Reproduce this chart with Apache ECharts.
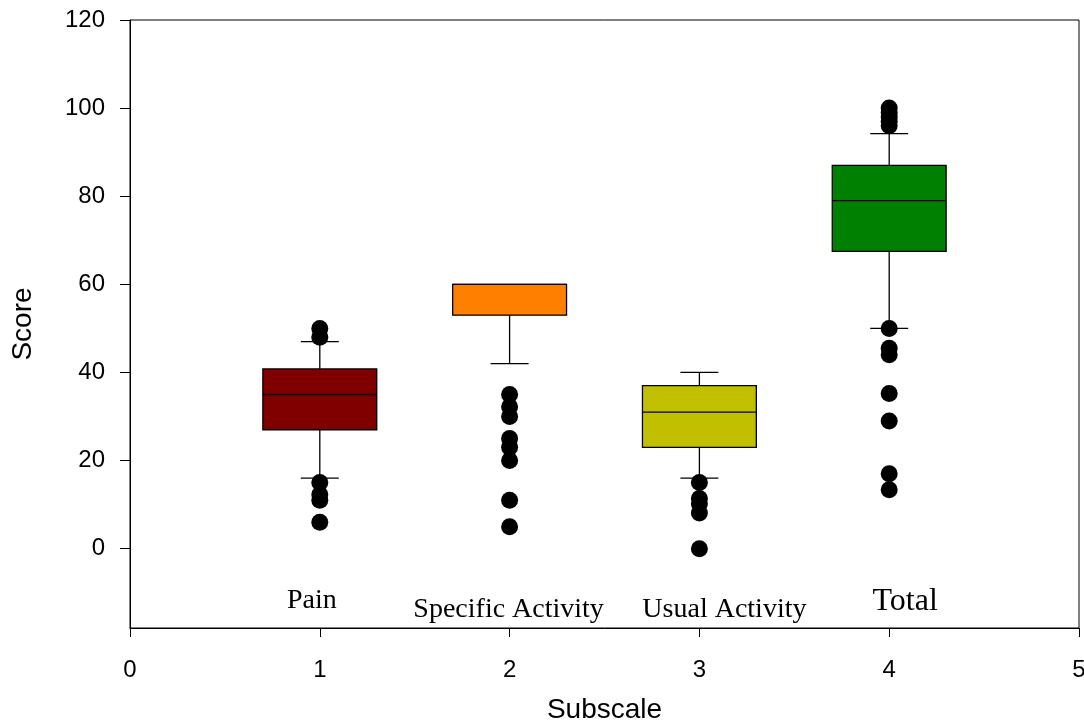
<!DOCTYPE html>
<html>
<head>
<meta charset="utf-8">
<script src="https://cdn.jsdelivr.net/npm/echarts@6/dist/echarts.min.js"></script>
<style>html,body{margin:0;padding:0;background:#fff}#c{width:1084px;height:725px}</style>
</head>
<body>
<div id="c"></div>
<script>
// ---- data ----
const categories = ['Pain', 'Specific Activity', 'Usual Activity', 'Total'];
const positions = [1, 2, 3, 4];
// [lowerWhisker, Q1, median, Q3, upperWhisker]
const painBox = [16, 27, 35, 40.8, 47];
const specificBox = [42, 53, 60, 60, 60];
const usualBox = [16, 23, 31, 37, 40];
const totalBox = [50, 67.5, 79, 87, 94.2];
const painOutliers = [50, 48, 15, 12.3, 11, 6];
const specificOutliers = [35, 32.2, 30, 25, 23, 20, 11, 5];
const usualOutliers = [15, 11.4, 10.2, 8.1, 0];
const totalOutliers = [100, 99, 98, 97, 96, 50, 45.5, 44, 35.2, 29, 17, 13.4];
const yTicks = [0, 20, 40, 60, 80, 100, 120];
const xTicks = [0, 1, 2, 3, 4, 5];

// ---- styles ----
const boxColors = ['#800000', '#ff8000', '#c0c000', '#008000'];

const boxes = [painBox, specificBox, usualBox, totalBox];
const outliers = [painOutliers, specificOutliers, usualOutliers, totalOutliers];

const boxData = boxes.map((b, i) => [positions[i]].concat(b));
const outlierData = [];
outliers.forEach((arr, i) => arr.forEach(v => outlierData.push([positions[i], v])));

const chart = echarts.init(document.getElementById('c'));

function renderBox(params, api) {
  const x = api.value(0);
  const lo = api.coord([x, api.value(1)]);
  const q1 = api.coord([x, api.value(2)]);
  const med = api.coord([x, api.value(3)]);
  const q3 = api.coord([x, api.value(4)]);
  const hi = api.coord([x, api.value(5)]);
  const halfW = api.size([0.3, 0])[0];
  const capW = api.size([0.1, 0])[0];
  const cx = lo[0];
  const ls = {stroke: '#000', lineWidth: 1.3};
  const children = [
    {type: 'line', shape: {x1: cx, y1: q1[1], x2: cx, y2: lo[1]}, style: ls},
    {type: 'line', shape: {x1: cx, y1: q3[1], x2: cx, y2: hi[1]}, style: ls},
    {type: 'line', shape: {x1: cx - capW, y1: lo[1], x2: cx + capW, y2: lo[1]}, style: ls},
    {type: 'rect', shape: {x: cx - halfW, y: q3[1], width: 2 * halfW, height: q1[1] - q3[1]},
      style: {fill: boxColors[params.dataIndex], stroke: '#000', lineWidth: 1.3}},
    {type: 'line', shape: {x1: cx - halfW, y1: med[1], x2: cx + halfW, y2: med[1]}, style: ls}
  ];
  if (hi[1] < q3[1] - 0.5) {
    children.push({type: 'line', shape: {x1: cx - capW, y1: hi[1], x2: cx + capW, y2: hi[1]}, style: ls});
  }
  return {type: 'group', children: children};
}

const serif = 'Liberation Serif';
const labelRich = {
  a: {fontFamily: serif, fontSize: 28, color: '#000', padding: [0, 16, 11, 0]},
  b: {fontFamily: serif, fontSize: 28, color: '#000', padding: [0, 2, 2, 0]},
  c: {fontFamily: serif, fontSize: 28, color: '#000', padding: [0, 0, 2, 50]},
  d: {fontFamily: serif, fontSize: 32, color: '#000', padding: [0, 0, 8, 32]}
};
const labelKeys = ['a', 'b', 'c', 'd'];

chart.setOption({
  animation: false,
  backgroundColor: '#fff',
  grid: {left: 130, right: 5, top: 20, bottom: 97, show: true, borderColor: '#000', borderWidth: 1,
    outerBoundsMode: 'none', containLabel: false},
  xAxis: [{
    type: 'value', min: 0, max: 5, interval: 1,
    name: 'Subscale', nameLocation: 'middle', nameGap: 68,
    nameTextStyle: {fontFamily: 'Liberation Sans', fontSize: 28, color: '#000'},
    axisLine: {show: true, onZero: false, lineStyle: {color: '#000', width: 1}},
    axisTick: {show: true, length: 9, lineStyle: {color: '#000'}},
    axisLabel: {fontFamily: 'Liberation Sans', fontSize: 24, color: '#000', margin: 30},
    splitLine: {show: false}
  }, {
    type: 'value', min: 0, max: 5, position: 'bottom',
    axisLine: {show: false}, axisTick: {show: false}, splitLine: {show: false},
    axisLabel: {
      inside: true, margin: 2, customValues: positions,
      formatter: function (v) {
        const i = positions.indexOf(v);
        return i < 0 ? '' : '{' + labelKeys[i] + '|' + categories[i] + '}';
      },
      rich: labelRich
    }
  }],
  yAxis: {
    type: 'value', min: -18, max: 120,
    name: 'Score', nameLocation: 'middle', nameGap: 93,
    nameTextStyle: {fontFamily: 'Liberation Sans', fontSize: 28, color: '#000'},
    axisLine: {show: true, onZero: false, lineStyle: {color: '#000', width: 1}},
    axisTick: {show: true, length: 10, customValues: yTicks, lineStyle: {color: '#000'}},
    axisLabel: {fontFamily: 'Liberation Sans', fontSize: 24, color: '#000', margin: 25, customValues: yTicks},
    splitLine: {show: false}
  },
  series: [{
    type: 'custom', xAxisIndex: 0, yAxisIndex: 0,
    renderItem: renderBox,
    encode: {x: 0, y: [1, 2, 3, 4, 5]},
    data: boxData, z: 2
  }, {
    type: 'scatter', xAxisIndex: 0, yAxisIndex: 0,
    symbol: 'circle', symbolSize: 17,
    itemStyle: {color: '#000', opacity: 1},
    data: outlierData, z: 3
  }]
});
</script>
</body>
</html>
